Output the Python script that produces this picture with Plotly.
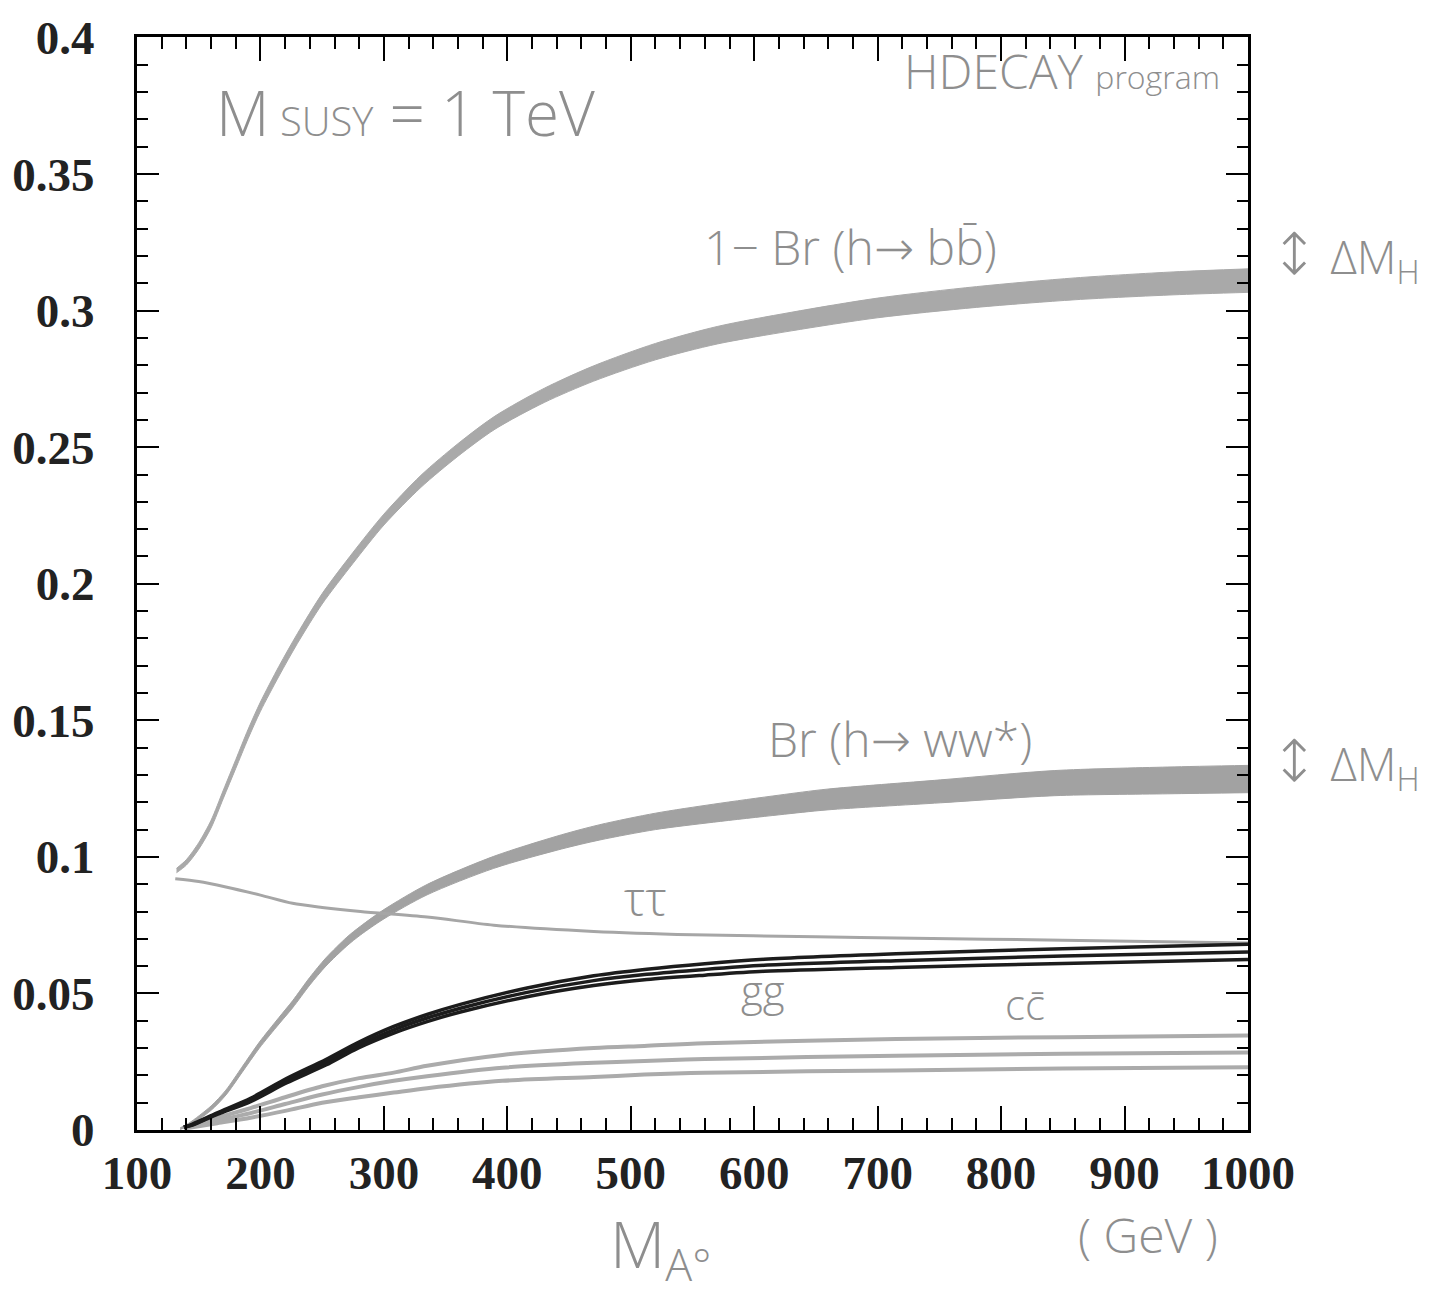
import plotly.graph_objects as go

# ---------------- data ----------------
# 1 - Br(h -> b bbar): band centre and half-width
bb_x = [132, 140, 150, 160, 170, 180, 190, 200, 215, 230, 250, 275, 300, 330, 360, 390,
        430, 470, 520, 570, 630, 700, 780, 860, 940, 1000]
bb_c = [0.095, 0.098, 0.104, 0.112, 0.123, 0.134, 0.145, 0.155, 0.168, 0.180, 0.1945, 0.2095,
        0.2235, 0.2375, 0.249, 0.259, 0.269, 0.277, 0.285, 0.291, 0.296, 0.301, 0.305, 0.308,
        0.310, 0.311]
bb_hw = [0.0008, 0.001, 0.0012, 0.0014, 0.0015, 0.0016, 0.0017, 0.0017, 0.0018, 0.0018, 0.0019,
         0.002, 0.002, 0.0022, 0.0023, 0.0024, 0.0026, 0.0028, 0.003, 0.0032, 0.0034, 0.0036,
         0.0038, 0.004, 0.0042, 0.0043]

# Br(h -> WW*): band centre and half-width
ww_x = [135, 142, 160, 172, 185, 199, 215, 226, 240, 253, 270, 281, 300, 335, 389, 444, 475,
        520, 567, 620, 659, 751, 843, 935, 1000]
ww_c = [0.0005, 0.002, 0.008, 0.0137, 0.022, 0.031, 0.040, 0.046, 0.0545, 0.0615, 0.069, 0.073,
        0.079, 0.088, 0.098, 0.1055, 0.109, 0.113, 0.116, 0.119, 0.121, 0.124, 0.127, 0.128,
        0.1285]
ww_hw = [0.0003, 0.0005, 0.0008, 0.0009, 0.001, 0.0011, 0.0012, 0.0013, 0.0014, 0.0015, 0.0016,
         0.0016, 0.0017, 0.0019, 0.0022, 0.0026, 0.0028, 0.003, 0.0033, 0.0036, 0.0038, 0.0042,
         0.0046, 0.0049, 0.005]

# Br(h -> tau tau)
tau_x = [131, 150, 172, 200, 226, 250, 281, 335, 389, 470, 550, 650, 715, 850, 1000]
tau_y = [0.092, 0.091, 0.089, 0.086, 0.083, 0.0815, 0.080, 0.078, 0.075, 0.0727, 0.0715,
         0.0708, 0.0703, 0.0695, 0.0685]

# Br(h -> gg): three curves
gg_x = [138, 145, 165, 192, 221, 253, 279, 308, 335, 362, 416, 470, 513, 560, 608, 715, 850, 1000]
gg_hi = [0.001, 0.0022, 0.0063, 0.0116, 0.0188, 0.0258, 0.032, 0.0379, 0.0423, 0.046, 0.052,
         0.0565, 0.0589, 0.0609, 0.0625, 0.0645, 0.0664, 0.068]
gg_mid = [0.001, 0.002, 0.006, 0.011, 0.018, 0.0248, 0.031, 0.0367, 0.041, 0.0446, 0.0504,
          0.0547, 0.057, 0.0588, 0.0603, 0.062, 0.0637, 0.0652]
gg_lo = [0.001, 0.0018, 0.0057, 0.0104, 0.0172, 0.0238, 0.03, 0.0355, 0.0397, 0.0432, 0.0488,
         0.0529, 0.0551, 0.0567, 0.0581, 0.0595, 0.061, 0.0624]

# Br(h -> c cbar): three curves
cc_x = [138, 165, 192, 220, 250, 280, 308, 335, 396, 470, 511, 560, 715, 850, 1000]
cc_hi = [0.001, 0.0045, 0.008, 0.012, 0.016, 0.019, 0.021, 0.0235, 0.0275, 0.0300, 0.0308,
         0.0318, 0.0333, 0.034, 0.0346]
cc_mid = [0.0008, 0.0035, 0.0062, 0.0095, 0.013, 0.0158, 0.018, 0.0197, 0.0228, 0.0246, 0.0253,
          0.026, 0.0272, 0.0279, 0.0284]
cc_lo = [0.0005, 0.0025, 0.0045, 0.007, 0.010, 0.012, 0.0137, 0.0153, 0.018, 0.0194, 0.0203,
         0.021, 0.0218, 0.0225, 0.023]

x_ticks = [100, 200, 300, 400, 500, 600, 700, 800, 900, 1000]
y_ticks = [0, 0.05, 0.1, 0.15, 0.2, 0.25, 0.3, 0.35, 0.4]
y_ticktext = ["0", "0.05", "0.1", "0.15", "0.2", "0.25", "0.3", "0.35", "0.4"]

# ---------------- figure ----------------
fig = go.Figure()


def band(xs, cs, hws, color):
    up = [c + h for c, h in zip(cs, hws)]
    lo = [c - h for c, h in zip(cs, hws)]
    fig.add_trace(go.Scatter(
        x=xs, y=lo, mode="lines",
        line=dict(color=color, width=1, shape="spline", smoothing=0.8),
        hoverinfo="skip", showlegend=False))
    fig.add_trace(go.Scatter(
        x=xs, y=up, mode="lines", fill="tonexty", fillcolor=color,
        line=dict(color=color, width=1, shape="spline", smoothing=0.8),
        hoverinfo="skip", showlegend=False))


band(bb_x, bb_c, bb_hw, "#a9a9a9")
band(ww_x, ww_c, ww_hw, "#a2a2a2")

fig.add_trace(go.Scatter(x=tau_x, y=tau_y, mode="lines",
                         line=dict(color="#a6a6a6", width=3, shape="spline", smoothing=0.8),
                         showlegend=False))

for arr in (cc_hi, cc_mid, cc_lo):
    fig.add_trace(go.Scatter(x=cc_x, y=arr, mode="lines",
                             line=dict(color="#ababab", width=4, shape="spline", smoothing=0.8),
                             showlegend=False))

for arr in (gg_hi, gg_mid, gg_lo):
    fig.add_trace(go.Scatter(x=gg_x, y=arr, mode="lines",
                             line=dict(color="#1c1c1c", width=3.5, shape="spline", smoothing=0.8),
                             showlegend=False))

tickfont = dict(family="Liberation Serif", size=47, color="#222222", weight="bold")

fig.update_xaxes(
    range=[100, 1000], tickvals=x_ticks, ticks="inside", ticklen=24, tickwidth=2,
    tickcolor="black", minor=dict(dtick=20, tick0=100, ticks="inside", ticklen=12,
                                  tickwidth=1.5, tickcolor="black"),
    showline=True, linewidth=3, linecolor="black", mirror="ticks",
    showgrid=False, zeroline=False, tickfont=tickfont, ticklabelstandoff=0,
    ticklabeloverflow="allow")

fig.update_yaxes(
    range=[0, 0.4002], tickvals=y_ticks, ticktext=y_ticktext, ticks="inside", ticklen=22,
    tickwidth=2, tickcolor="black",
    minor=dict(dtick=0.01, tick0=0, ticks="inside", ticklen=11, tickwidth=1.5,
               tickcolor="black"),
    showline=True, linewidth=3, linecolor="black", mirror="ticks",
    showgrid=False, zeroline=False, tickfont=tickfont, ticklabelstandoff=30,
    ticklabeloverflow="allow")

hand = "#8e8e8e"
T = 26
B = 1130


def note(text, px, py, size, anchor="center"):
    py = py - 10
    fig.add_annotation(text=text, x=(px - 137) / 1111, y=(B - py) / (B - T),
                       xref="paper", yref="paper", showarrow=False,
                       xanchor=anchor, yanchor="middle",
                       font=dict(family="Open Sans", size=size, color=hand, weight=300))


note("M<span style='font-size:40px'> SUSY</span> = 1 TeV", 405, 112, 62)
note("HDECAY <span style='font-size:32px'>program</span>", 1062, 70, 48)
note("1− Br (h<span style='font-family:DejaVu Sans'>→</span> bb̄)", 850, 248, 48)
note("Br (h<span style='font-family:DejaVu Sans'>→</span> ww*)", 900, 745, 48)
note("ττ", 645, 905, 48)
note("gg", 763, 998, 42)
note("cc̄", 1025, 1012, 42)
note("<span style='font-family:DejaVu Sans;font-size:58px'>↕</span> ΔM<sub>H</sub>", 1345, 258, 46)
note("<span style='font-family:DejaVu Sans;font-size:58px'>↕</span> ΔM<sub>H</sub>", 1345, 770, 46)
note("M<sub>A°</sub>", 660, 1258, 64)
note("( GeV )", 1148, 1246, 48)

fig.update_layout(
    width=1431, height=1303,
    margin=dict(l=137, r=183, t=T, b=1303 - B),
    paper_bgcolor="white", plot_bgcolor="white",
    showlegend=False)

fig.write_html("out.html")
